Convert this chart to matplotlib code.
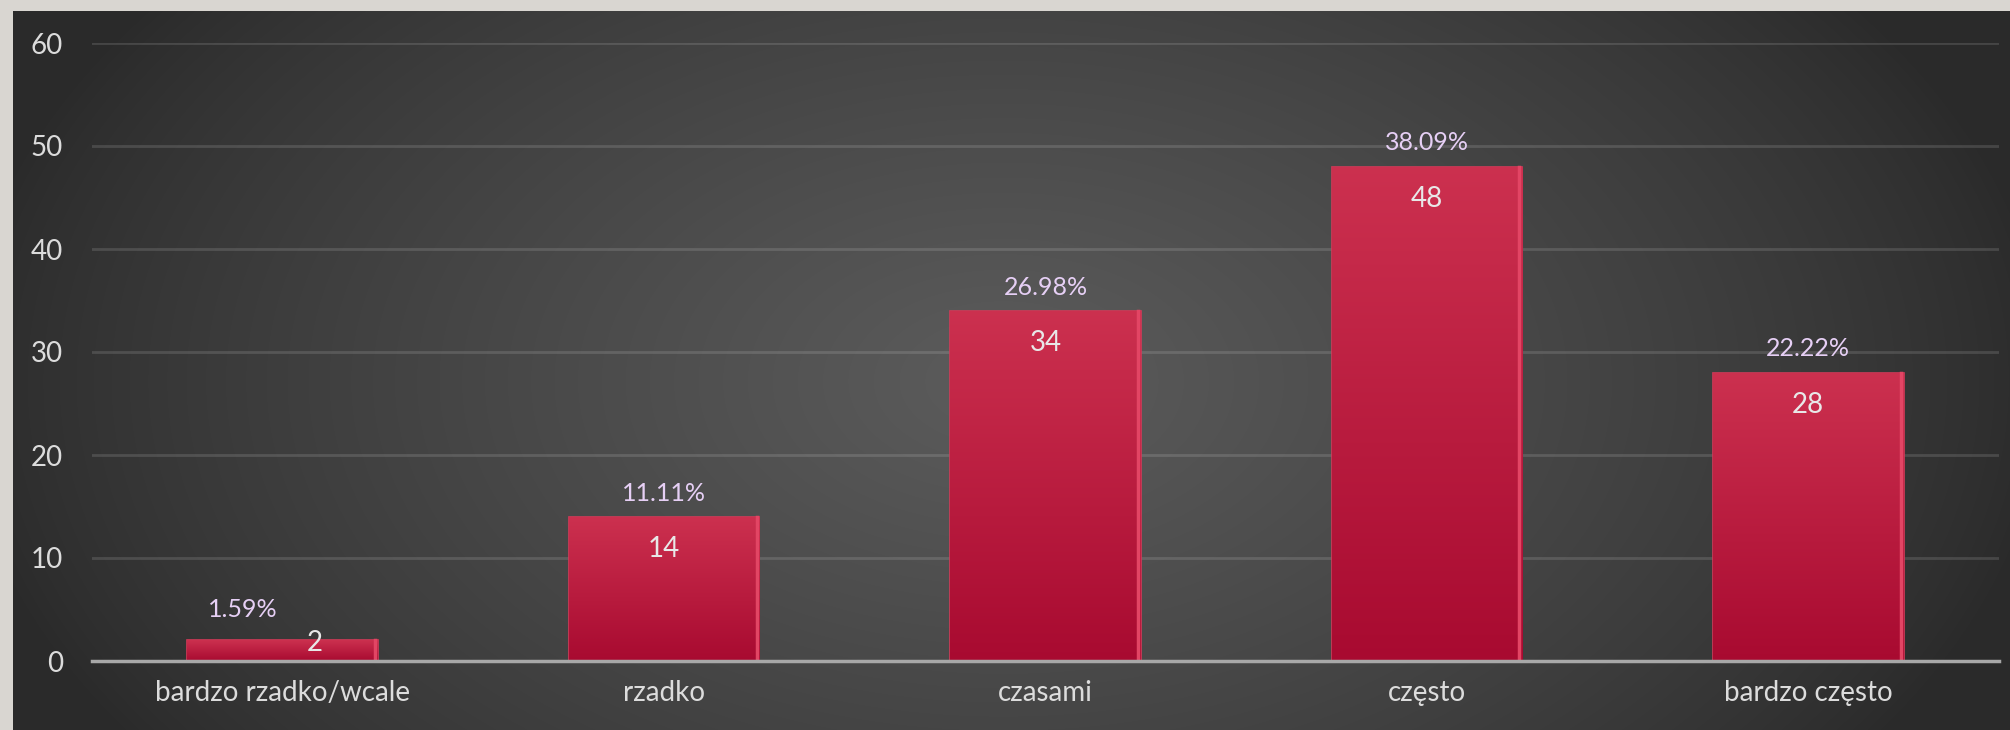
import matplotlib
matplotlib.use("Agg")
import matplotlib.pyplot as plt
import numpy as np

categories = ["bardzo rzadko/wcale", "rzadko", "czasami", "często", "bardzo często"]
counts = [2, 14, 34, 48, 28]
percent_labels = ["1.59%", "11.11%", "26.98%", "38.09%", "22.22%"]
y_ticks = [0, 10, 20, 30, 40, 50, 60]

plt.rcParams['font.family'] = ['Lato', 'DejaVu Sans']

W, H = 2010, 730
fig = plt.figure(figsize=(W / 100, H / 100), dpi=100)
fig.patch.set_facecolor('#d9d6d1')

# dark panel with a soft radial highlight
bg = fig.add_axes([13 / W, 0, 1 - 13 / W, (H - 11) / H])
bg.set_axis_off()
yy, xx = np.mgrid[0:H - 11, 0:W - 13]
d = np.sqrt(((xx - 990) / 1050) ** 2 + ((yy - 370) / 650) ** 2)
shade = (42 + 50 * np.clip(1 - d, 0, 1) ** 0.8) / 255
bg.imshow(np.dstack([shade, shade, shade]), aspect='auto', interpolation='bilinear')

ax = fig.add_axes([92 / W, 69 / H, (1999 - 92) / W, (661 - 43) / H])
ax.set_facecolor('none')
x = np.arange(len(categories))
bars = ax.bar(x, counts, width=0.5, color='#b81838', edgecolor='#d23a58', linewidth=1.2, zorder=3)

# vertical gradient inside every bar
grad = np.linspace(0, 1, 100).reshape(-1, 1)
top_c = np.array([0.80, 0.19, 0.31])
bot_c = np.array([0.66, 0.04, 0.19])
img = top_c * (1 - grad[..., None]) + bot_c * grad[..., None]
for b in bars:
    x0, y0, w, h = b.get_x(), b.get_y(), b.get_width(), b.get_height()
    im = ax.imshow(img, extent=[x0, x0 + w, y0, y0 + h], aspect='auto', zorder=3.5,
                   interpolation='bilinear')
    im.set_clip_path(b)
    # lighter right edge like the bevel
    ax.plot([x0 + w * 0.985, x0 + w * 0.985], [y0, y0 + h], color='#e24564', lw=2.5, zorder=4)

ax.set_xlim(-0.5, len(categories) - 0.5)
ax.set_ylim(0, 60)
ax.set_yticks(y_ticks)
ax.set_xticks(x)
ax.set_xticklabels(categories)
ax.tick_params(axis='both', length=0, colors='#dcdcdc', labelsize=20)
ax.tick_params(axis='y', pad=21)
ax.tick_params(axis='x', pad=14)
ax.grid(axis='y', color='white', alpha=0.13, linewidth=2, zorder=0)
for s in ['top', 'right', 'left']:
    ax.spines[s].set_visible(False)
ax.spines['bottom'].set_color('#a8a8a8')
ax.spines['bottom'].set_linewidth(2.5)
ax.spines['bottom'].set_zorder(5)

for i, (v, p) in enumerate(zip(counts, percent_labels)):
    if v < 5:
        px, py, vx, vy = -29, 22, 23, -2
    else:
        px, py, vx, vy = 0, 17, 0, -23
    ax.annotate(p, (i, v), xytext=(px, py), textcoords='offset points',
                ha='center', va='center', fontsize=18, color='#e6cff5', zorder=6)
    ax.annotate(str(v), (i, v), xytext=(vx, vy), textcoords='offset points',
                ha='center', va='center', fontsize=20, color='#e8e8e8', zorder=6)

fig.savefig('out.png', dpi=100, facecolor=fig.get_facecolor())
